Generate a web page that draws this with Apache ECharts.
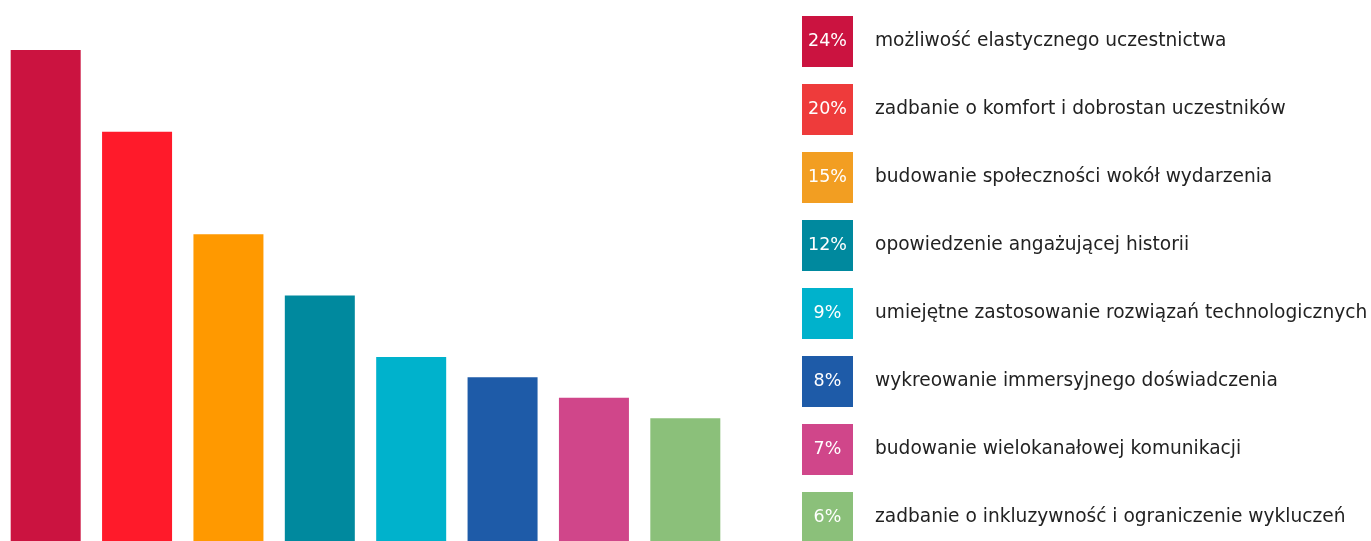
<!DOCTYPE html>
<html lang="pl">
<head>
<meta charset="utf-8">
<title>Czynniki sukcesu wydarzenia</title>
<script src="https://cdn.jsdelivr.net/npm/echarts@6/dist/echarts.min.js"></script>
<style>
  html, body { margin: 0; padding: 0; background: #ffffff; }
  #chart { width: 1371px; height: 541px; }
</style>
</head>
<body>
<div id="chart"></div>
<script>
// Categories (answer options) and their share of responses, in percent
const categories = [
  'możliwość elastycznego uczestnictwa',
  'zadbanie o komfort i dobrostan uczestników',
  'budowanie społeczności wokół wydarzenia',
  'opowiedzenie angażującej historii',
  'umiejętne zastosowanie rozwiązań technologicznych',
  'wykreowanie immersyjnego doświadczenia',
  'budowanie wielokanałowej komunikacji',
  'zadbanie o inkluzywność i ograniczenie wykluczeń'
];
const values = [24, 20, 15, 12, 9, 8, 7, 6];

// Bar fills and the matching legend swatch fills
const barColors = ['#CB1340', '#FF1A2A', '#FF9900', '#00899E', '#00B2CC', '#1E5BA8', '#D0468A', '#8BC07A'];
const swatchColors = ['#CB1340', '#EE3B3B', '#F29E22', '#00899E', '#00B2CC', '#1E5BA8', '#D0468A', '#8BC07A'];

// One series per category so every answer gets its own legend entry;
// each series only carries a value at its own category slot.
const series = categories.map((name, i) => ({
  name: name,
  type: 'bar',
  stack: 'all',
  barWidth: 70,
  itemStyle: { color: barColors[i] },
  data: values.map((v, j) => (j === i ? v : '-'))
}));

// Rich styles for the coloured percentage boxes in the legend
const rich = {
  name: {
    fontFamily: 'DejaVu Sans',
    fontSize: 18.6,
    color: '#222222',
    padding: [0, 0, 0, 22]
  }
};
swatchColors.forEach((c, i) => {
  rich['b' + i] = {
    backgroundColor: c,
    width: 51,
    height: 51,
    lineHeight: 51,
    align: 'center',
    color: '#ffffff',
    fontFamily: 'DejaVu Sans',
    fontSize: 17.5
  };
});

const chart = echarts.init(document.getElementById('chart'), null, { renderer: 'canvas' });
chart.setOption({
  animation: false,
  backgroundColor: '#ffffff',
  grid: { left: -1, top: 50, width: 732, bottom: 0, containLabel: false },
  xAxis: {
    type: 'category',
    data: categories,
    show: false
  },
  yAxis: {
    type: 'value',
    min: 0,
    max: 24,
    show: false,
    splitLine: { show: false }
  },
  legend: {
    orient: 'vertical',
    left: 797,
    top: 16,
    height: 700,
    padding: 0,
    itemWidth: 0,
    itemHeight: 0,
    itemGap: 17,
    icon: 'rect',
    selectedMode: false,
    data: categories,
    formatter: (name) => {
      const i = categories.indexOf(name);
      return '{b' + i + '|' + values[i] + '%}{name|' + name + '}';
    },
    textStyle: { rich: rich }
  },
  series: series
});
</script>
</body>
</html>
